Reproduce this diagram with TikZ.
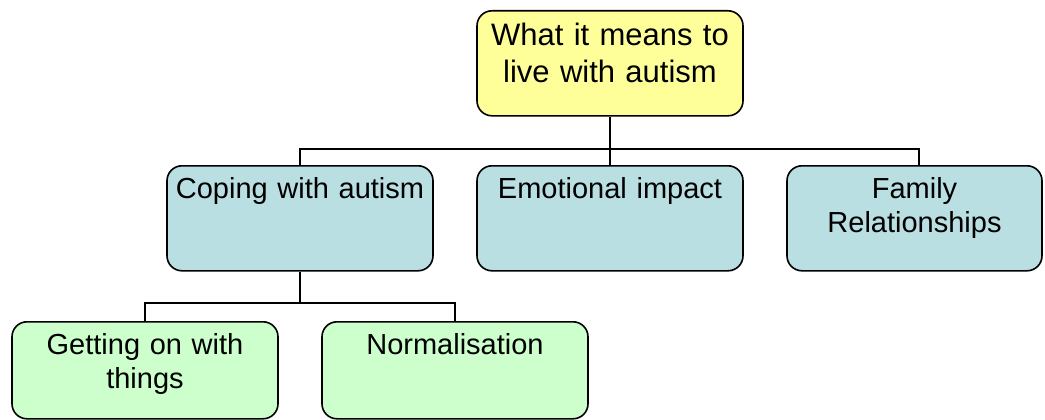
\documentclass[tikz,border=0pt]{standalone}
\usepackage{fontspec}
\setmainfont{Liberation Sans}
\usepackage{tikz}
\usetikzlibrary{positioning}

\definecolor{topyellow}{HTML}{FFFF99}
\definecolor{midblue}{HTML}{B9DFE2}
\definecolor{lowgreen}{HTML}{CCFFCC}

\begin{document}
\begin{tikzpicture}[
  x=1pt, y=-1pt,
  every node/.style={font=\fontsize{29}{34}\selectfont},
  topic/.style={draw, line width=1.6pt, rounded corners=15pt, align=center,
    anchor=north, inner xsep=8pt, inner ysep=12pt, text width=250pt,
    text height=21pt, text depth=60pt},
  rootbox/.style={topic, fill=topyellow, font=\fontsize{31}{37}\selectfont,
    text height=23pt, text depth=58pt},
  themebox/.style={topic, fill=midblue},
  subbox/.style={topic, fill=lowgreen, text depth=52pt},
  link/.style={line width=1.6pt}
]
\useasboundingbox (0,0) rectangle (1045,420);

\node[rootbox] (root) at (610,10) {What it means to\\live with autism};
\node[themebox] (cope) at (300,165) {Coping with autism};
\node[themebox] (emo) at (610,165) {Emotional impact};
\node[themebox, text width=239pt] (fam) at (914.5,165) {Family\\Relationships};
\node[subbox] (things) at (145,321) {Getting on with\\things};
\node[subbox] (norm) at (455,321) {Normalisation};

\coordinate (bus) at (610,149);
\coordinate (subbus) at (300,303);
\draw[link] (root) -- (bus);
\draw[link] (bus) -| (cope.north);
\draw[link] (bus) -- (emo.north);
\draw[link] (bus) -| ([xshift=4.5pt]fam.north);
\draw[link] (cope) -- (subbus);
\draw[link] (subbus) -| (things.north);
\draw[link] (subbus) -| (norm.north);
\end{tikzpicture}
\end{document}
